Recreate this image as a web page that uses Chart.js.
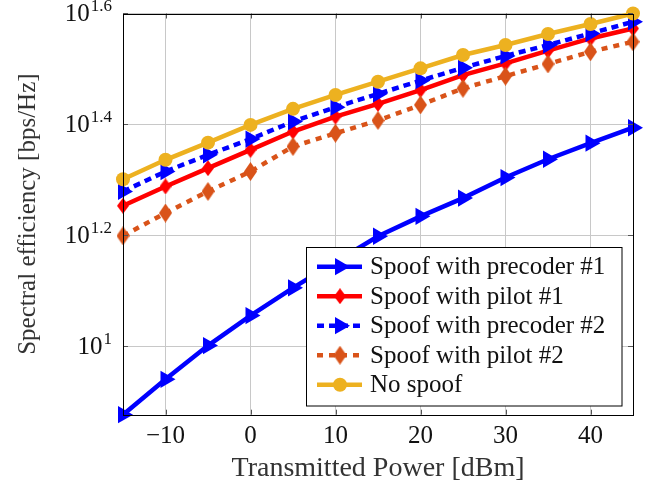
<!DOCTYPE html>
<html lang="en">
  <head>
    <meta charset="UTF-8" />
    <script src="https://cdn.jsdelivr.net/npm/chart.js@4.4.1/dist/chart.umd.min.js"></script>
    <title>spectral efficiency</title>
    <style>
      body { margin: 0; background: #fff; }
    </style>
  </head>
  <body>
    <canvas id="myChart" width="660" height="491"></canvas>

    <script>
      // transmitted power in dBm
      const power = [-15, -10, -5, 0, 5, 10, 15, 20, 25, 30, 35, 40, 45];
      // spectral efficiency in bps/Hz
      const precoder1 = [7.52, 8.71, 10.02, 11.35, 12.74, 14.19, 15.78, 17.14, 18.49, 20.14, 21.73, 23.23, 24.77];
      const pilot1 = [17.91, 19.41, 20.94, 22.59, 24.38, 25.94, 27.35, 28.97, 30.83, 32.36, 34.12, 35.89, 37.41];
      const precoder2 = [19.01, 20.65, 22.13, 23.63, 25.41, 26.98, 28.51, 30.13, 31.77, 33.38, 34.92, 36.64, 38.46];
      const pilot2 = [15.81, 17.38, 19.01, 20.65, 22.91, 24.21, 25.53, 27.23, 29.17, 30.69, 32.28, 33.96, 35.40];
      const noSpoof = [20.0, 21.68, 23.28, 25.06, 26.79, 28.38, 29.99, 31.70, 33.50, 34.92, 36.56, 38.11, 39.81];

      const xTicks = [-10, 0, 10, 20, 30, 40];
      const yTickExps = [1, 1.2, 1.4, 1.6];
      const labels = ['Spoof with precoder #1', 'Spoof with pilot #1', 'Spoof with precoder #2', 'Spoof with pilot #2', 'No spoof'];

      const FONT = 'Liberation Serif';
      const BLUE = '#0000ff', RED = '#ff0000', ORANGE = '#d95319', YELLOW = '#edb120';

      // tall diamond marker like pgfplots diamond*
      function diamond(w, h, color) {
        const c = document.createElement('canvas');
        c.width = w; c.height = h;
        const g = c.getContext('2d');
        g.fillStyle = color;
        g.beginPath();
        g.moveTo(w / 2, 0); g.lineTo(w, h / 2); g.lineTo(w / 2, h); g.lineTo(0, h / 2);
        g.closePath();
        g.fill();
        return c;
      }

      function pts(ys) {
        return power.map((x, i) => ({x: x, y: ys[i]}));
      }

      function ds(label, ys, color, style, dash, order) {
        return Object.assign({
          label: label,
          data: pts(ys),
          borderColor: color,
          backgroundColor: color,
          pointBackgroundColor: color,
          pointBorderColor: color,
          pointBorderWidth: 0,
          borderWidth: 4.5,
          borderDash: dash,
          tension: 0,
          clip: false,
          order: order
        }, style);
      }

      const triStyle = {pointStyle: 'triangle', pointRotation: 90, pointRadius: 10};
      const d = {
        datasets: [
          ds(labels[0], precoder1, BLUE, triStyle, [], 5),
          ds(labels[1], pilot1, RED, {pointStyle: diamond(12, 16, RED), pointRadius: 8}, [], 4),
          ds(labels[2], precoder2, BLUE, triStyle, [7, 5], 3),
          ds(labels[3], pilot2, ORANGE, {pointStyle: diamond(13, 19, ORANGE), pointRadius: 9}, [6, 6], 2),
          ds(labels[4], noSpoof, YELLOW, {pointStyle: 'circle', pointRadius: 7}, [], 1)
        ]
      };

      const frame = {
        id: 'frame',
        afterDraw(chart) {
          const {ctx, chartArea: a} = chart;
          const ys = chart.scales.y, xs = chart.scales.x;
          ctx.save();
          // tick marks inside the box
          ctx.strokeStyle = '#555';
          ctx.lineWidth = 1;
          ctx.beginPath();
          xTicks.forEach(v => {
            const px = Math.round(xs.getPixelForValue(v)) + 0.5;
            ctx.moveTo(px, a.bottom); ctx.lineTo(px, a.bottom - 5);
            ctx.moveTo(px, a.top); ctx.lineTo(px, a.top + 5);
          });
          ys.ticks.forEach(t => {
            const py = Math.round(ys.getPixelForValue(t.value)) + 0.5;
            ctx.moveTo(a.left, py); ctx.lineTo(a.left + 5, py);
            ctx.moveTo(a.right, py); ctx.lineTo(a.right - 5, py);
          });
          ctx.stroke();
          ctx.strokeStyle = '#000';
          ctx.strokeRect(Math.round(a.left) + 0.5, Math.round(a.top) + 0.5,
            Math.round(a.right - a.left), Math.round(a.bottom - a.top));

          // y tick labels 10^e
          ctx.fillStyle = '#111';
          ctx.textBaseline = 'middle';
          ys.ticks.forEach((t, i) => {
            const py = ys.getPixelForValue(t.value);
            const e = yTickExps[i];
            const sup = e === 1 ? '1' : e.toFixed(1);
            ctx.font = '17px "' + FONT + '"';
            const sw = ctx.measureText(sup).width;
            const right = a.left - 11;
            ctx.textAlign = 'left';
            ctx.fillText(sup, right - sw, py - 7);
            ctx.font = '25px "' + FONT + '"';
            ctx.textAlign = 'right';
            ctx.fillText('10', right - sw - 1, py + 1);
          });

          // legend box
          const bx = 306.5, by = 247.5, bw = 315.5, bh = 158.5;
          ctx.fillStyle = '#fff';
          ctx.fillRect(bx, by, bw, bh);
          ctx.strokeStyle = '#000';
          ctx.lineWidth = 1;
          ctx.strokeRect(bx, by, bw, bh);
          chart.data.datasets.forEach((s, i) => {
            const cy = 266.7 + i * 29.5;
            ctx.save();
            ctx.strokeStyle = s.borderColor;
            ctx.lineWidth = s.borderWidth;
            ctx.setLineDash(s.borderDash);
            ctx.beginPath();
            ctx.moveTo(317, cy); ctx.lineTo(362, cy);
            ctx.stroke();
            ctx.restore();
            ctx.fillStyle = s.pointBackgroundColor;
            ctx.strokeStyle = s.pointBorderColor;
            ctx.lineWidth = 0;
            Chart.helpers.drawPoint(ctx, {
              pointStyle: s.pointStyle, radius: s.pointRadius,
              rotation: s.pointRotation || 0, borderWidth: 0
            }, 340, cy);
            ctx.fillStyle = '#111';
            ctx.font = '25px "' + FONT + '"';
            ctx.textAlign = 'left';
            ctx.textBaseline = 'middle';
            ctx.fillText(s.label, 370, cy + 1);
          });
          ctx.restore();
        }
      };

      const ctx = document.getElementById('myChart');
      const myChart = new Chart(ctx, {
        type: 'line',
        data: d,
        plugins: [frame],
        options: {
          responsive: false,
          animation: false,
          devicePixelRatio: 1,
          layout: {padding: {top: 13.5, right: 27, left: 0, bottom: 0}},
          plugins: {legend: {display: false}, tooltip: {enabled: false}},
          scales: {
            x: {
              type: 'linear',
              min: -15,
              max: 45,
              afterBuildTicks: s => { s.ticks = xTicks.map(v => ({value: v})); },
              afterFit: s => { s.height = 76.3; },
              grid: {color: '#c8c8c8', lineWidth: 1, drawTicks: false},
              border: {display: false},
              ticks: {
                color: '#111',
                padding: 7,
                maxRotation: 0,
                font: {family: FONT, size: 25},
                callback: v => v < 0 ? '\u2212' + Math.abs(v) : String(v)
              },
              title: {
                display: true,
                text: 'Transmitted Power [dBm]',
                color: '#333',
                font: {family: FONT, size: 28},
                padding: {top: 0, bottom: 6}
              }
            },
            y: {
              type: 'logarithmic',
              min: 7.52,
              max: 39.81,
              afterBuildTicks: s => { s.ticks = yTickExps.map(e => ({value: Math.pow(10, e)})); },
              afterFit: s => { s.width = 123; },
              grid: {color: '#c8c8c8', lineWidth: 1, drawTicks: false},
              border: {display: false},
              ticks: {display: false},
              title: {
                display: true,
                text: 'Spectral efficiency [bps/Hz]',
                color: '#333',
                font: {family: FONT, size: 25},
                padding: {top: 13, bottom: 0}
              }
            }
          }
        }
      });
    </script>
  </body>
</html>
